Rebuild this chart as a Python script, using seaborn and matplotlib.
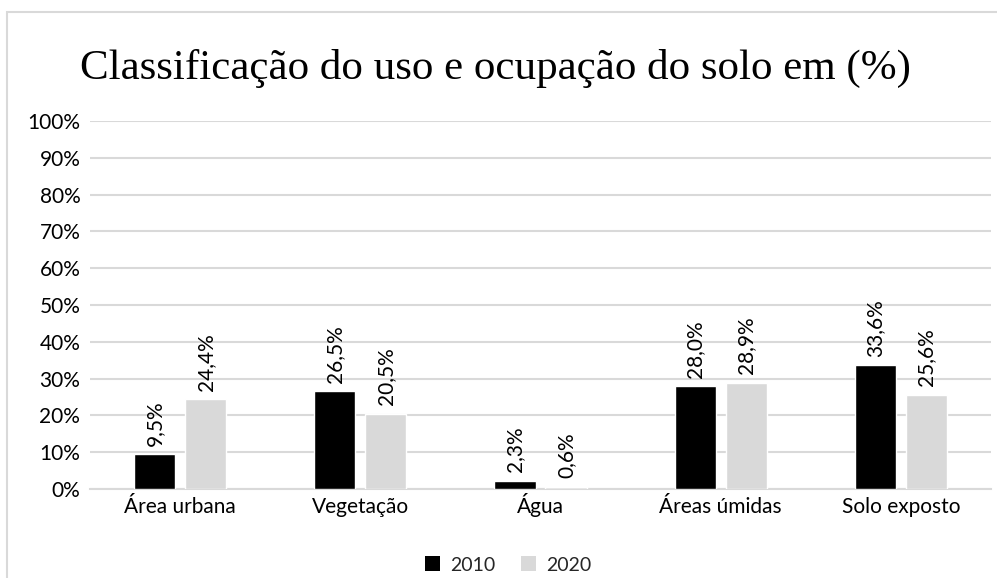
import matplotlib
matplotlib.use("Agg")
import matplotlib.pyplot as plt
import matplotlib.patches as mpatches
import seaborn as sns
import pandas as pd

categories = ["Área urbana", "Vegetação", "Água", "Áreas úmidas", "Solo exposto"]
years = ["2010", "2020"]
values_2010 = [9.5, 26.5, 2.3, 28.0, 33.6]
values_2020 = [24.4, 20.5, 0.6, 28.9, 25.6]
yticks = [0, 10, 20, 30, 40, 50, 60, 70, 80, 90, 100]
title = "Classificação do uso e ocupação do solo em (%)"

df = pd.DataFrame({
    "categoria": categories * 2,
    "ano": [years[0]] * len(categories) + [years[1]] * len(categories),
    "valor": values_2010 + values_2020,
})

sns.set_theme(style="white")
plt.rcParams["font.family"] = ["Lato", "DejaVu Sans"]

W, H = 997, 578
fig = plt.figure(figsize=(W / 100, H / 100), dpi=100)
ax = fig.add_axes([90 / W, 1 - 489 / H, (991 - 90) / W, (489 - 121) / H])

palette = {"2010": "#000000", "2020": "#d9d9d9"}
sns.barplot(data=df, x="categoria", y="valor", hue="ano", order=categories,
            hue_order=years, palette=palette, width=0.567, gap=0.195,
            saturation=1, ax=ax, legend=False, zorder=3)

ax.set_ylim(0, 100)
ax.set_xlim(-0.5, len(categories) - 0.5)
ax.set_yticks(yticks)
ax.set_yticklabels([f"{t}%" for t in yticks])
ax.yaxis.grid(True, color="#d9d9d9", linewidth=1.5, zorder=0)
ax.set_axisbelow(True)
for s in ["top", "right", "left"]:
    ax.spines[s].set_visible(False)
ax.spines["bottom"].set_color("#d9d9d9")
ax.spines["bottom"].set_linewidth(1.5)
ax.set_xlabel("")
ax.set_ylabel("")
ax.tick_params(axis="both", length=0, labelsize=15, colors="#000000")
ax.tick_params(axis="y", pad=7)
ax.tick_params(axis="x", pad=17)
for lab in ax.get_xticklabels():
    lab.set_va("baseline")

for container in ax.containers:
    labels = [f"{v:.1f}%".replace(".", ",") for v in container.datavalues]
    ax.bar_label(container, labels=labels, rotation=90, padding=6,
                 fontsize=15, color="#000000")

fig.text(495 / W, 1 - 68 / H, title, ha="center", va="center",
         fontsize=31, family=["Liberation Serif", "DejaVu Serif"], color="#000000")

handles = [mpatches.Patch(facecolor=palette[y], edgecolor="none", label=y) for y in years]
fig.legend(handles=handles, loc="center", bbox_to_anchor=(508 / W, 1 - 565 / H),
           ncol=2, frameon=False, fontsize=14, handlelength=0.8, handleheight=0.8,
           handletextpad=0.5, columnspacing=1.3)

# outer chart frame (partially visible)
frame = mpatches.Rectangle((7 / W, -0.1), 1.2, 1 - 12 / H + 0.1, transform=fig.transFigure,
                           fill=False, edgecolor="#d9d9d9", linewidth=1.5)
fig.add_artist(frame)

fig.savefig("out.png", dpi=100)
